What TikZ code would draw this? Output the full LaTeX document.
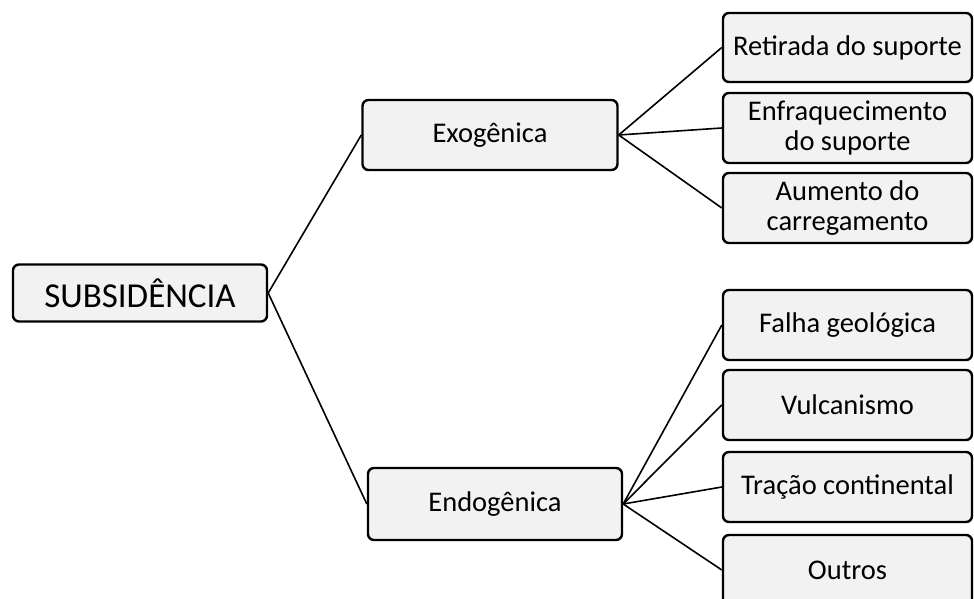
\documentclass[tikz,border=0pt]{standalone}
\usepackage{fontspec}
\setmainfont{Carlito}
\definecolor{boxgray}{HTML}{F2F2F2}

\begin{document}
\begin{tikzpicture}[x=1pt,y=-1pt]
		\useasboundingbox (0,0) rectangle (974,599);
		\begin{scope}[every node/.style={draw=black,line width=2.4pt,rounded corners=6pt,
				fill=boxgray,align=center,inner sep=0pt,font=\fontsize{28.5}{30}\selectfont}]
			\node[minimum width=254pt,minimum height=57pt,font=\fontsize{35}{38}\selectfont] (SUB) at (140,293) {SUBSIDÊNCIA};
			\node[minimum width=255pt,minimum height=70pt] (EXO) at (490,135) {Exogênica};
			\node[minimum width=254pt,minimum height=72pt] (END) at (495,504) {Endogênica};
			\node[minimum width=249pt,minimum height=69pt] (RET) at (847.5,47.5) {Retirada do suporte};
			\node[minimum width=249pt,minimum height=70pt] (ENF) at (847.5,128) {Enfraquecimento\\do suporte};
			\node[minimum width=249pt,minimum height=70pt] (AUM) at (847.5,208) {Aumento do\\carregamento};
			\node[minimum width=249pt,minimum height=70pt] (FAL) at (847.5,325) {Falha geológica};
			\node[minimum width=249pt,minimum height=70pt] (VUL) at (847.5,405) {Vulcanismo};
			\node[minimum width=249pt,minimum height=70pt] (TRA) at (847.5,487) {Tração continental};
			\node[minimum width=249pt,minimum height=70pt] (OUT) at (847.5,570) {Outros};
		\end{scope}
		\begin{scope}[every edge/.style={draw=black,line width=1.6pt}]
			\path (SUB.east) edge (EXO.west);
			\path (SUB.east) edge (END.west);
			\path (EXO.east) edge (RET.west);
			\path (EXO.east) edge (ENF.west);
			\path (EXO.east) edge (AUM.west);
			\path (END.east) edge (FAL.west);
			\path (END.east) edge (VUL.west);
			\path (END.east) edge (TRA.west);
			\path (END.east) edge (OUT.west);
		\end{scope}
	\end{tikzpicture}
\end{document}
